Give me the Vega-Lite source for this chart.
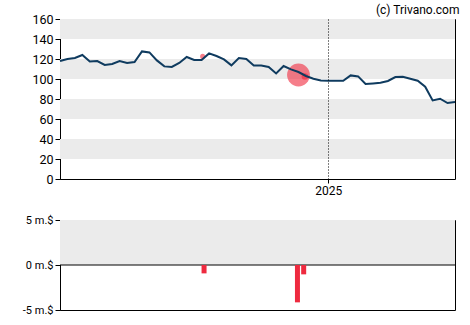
{
  "$schema": "https://vega.github.io/schema/vega-lite/v6.json",
  "background": "white",
  "padding": {"left": 21, "top": 3, "right": 14, "bottom": 5},
  "title": {"text": "(c) Trivano.com", "anchor": "end", "fontSize": 12, "fontWeight": "normal", "font": "Roboto", "color": "black", "offset": -4},
  "config": {
    "view": {"stroke": "black", "strokeWidth": 1},
    "axis": {"domainColor": "black", "tickColor": "black", "labelColor": "black", "labelFont": "Roboto", "title": null, "grid": false, "tickSize": 5, "labelPadding": 2, "labelOverlap": false, "labelBound": false, "labelFlush": false}
  },
  "datasets": {
    "prices": [
      {"date": "2024-04-24", "close": 118}, {"date": "2024-05-01", "close": 120}, {"date": "2024-05-08", "close": 121},
      {"date": "2024-05-15", "close": 124}, {"date": "2024-05-22", "close": 117.6}, {"date": "2024-05-29", "close": 118},
      {"date": "2024-06-05", "close": 114}, {"date": "2024-06-12", "close": 115}, {"date": "2024-06-19", "close": 118},
      {"date": "2024-06-26", "close": 116}, {"date": "2024-07-03", "close": 117}, {"date": "2024-07-10", "close": 127.6},
      {"date": "2024-07-17", "close": 126.6}, {"date": "2024-07-24", "close": 118.6}, {"date": "2024-07-31", "close": 112.6},
      {"date": "2024-08-07", "close": 112}, {"date": "2024-08-14", "close": 116}, {"date": "2024-08-21", "close": 122},
      {"date": "2024-08-28", "close": 119}, {"date": "2024-09-04", "close": 119}, {"date": "2024-09-11", "close": 125.6},
      {"date": "2024-09-18", "close": 123}, {"date": "2024-09-25", "close": 119.6}, {"date": "2024-10-02", "close": 113.6},
      {"date": "2024-10-09", "close": 121}, {"date": "2024-10-16", "close": 120}, {"date": "2024-10-23", "close": 113.6},
      {"date": "2024-10-30", "close": 113.6}, {"date": "2024-11-06", "close": 112}, {"date": "2024-11-13", "close": 105.6},
      {"date": "2024-11-20", "close": 113}, {"date": "2024-11-27", "close": 109.6}, {"date": "2024-12-04", "close": 107},
      {"date": "2024-12-11", "close": 103}, {"date": "2024-12-18", "close": 100.3}, {"date": "2024-12-25", "close": 98.6},
      {"date": "2025-01-01", "close": 98.3}, {"date": "2025-01-08", "close": 98.3}, {"date": "2025-01-15", "close": 98.3},
      {"date": "2025-01-22", "close": 103.6}, {"date": "2025-01-29", "close": 102.6}, {"date": "2025-02-05", "close": 95},
      {"date": "2025-02-12", "close": 95.6}, {"date": "2025-02-19", "close": 96.3}, {"date": "2025-02-26", "close": 98},
      {"date": "2025-03-05", "close": 102}, {"date": "2025-03-12", "close": 102.3}, {"date": "2025-03-19", "close": 100.3},
      {"date": "2025-03-26", "close": 98.3}, {"date": "2025-04-02", "close": 92.3}, {"date": "2025-04-09", "close": 78.6},
      {"date": "2025-04-16", "close": 80.3}, {"date": "2025-04-23", "close": 76}, {"date": "2025-04-30", "close": 77}
    ],
    "trades": [
      {"date": "2024-09-05", "price": 122.6, "value": -0.93},
      {"date": "2024-12-04", "price": 104, "value": -4.15},
      {"date": "2024-12-10", "price": 102.5, "value": -1.04}
    ],
    "bands": [
      {"lo": 20, "hi": 40}, {"lo": 60, "hi": 80}, {"lo": 100, "hi": 120}, {"lo": 140, "hi": 160}
    ],
    "bands2": [
      {"lo": 0, "hi": 5}
    ]
  },
  "spacing": 16,
  "vconcat": [
    {
      "width": 395,
      "height": 160,
      "layer": [
        {
          "data": {"name": "bands"},
          "mark": {"type": "rect", "color": "#ebebeb"},
          "encoding": {
            "y": {"field": "lo", "type": "quantitative", "scale": {"domain": [0, 160], "nice": false},
                  "axis": {"values": [0, 20, 40, 60, 80, 100, 120, 140, 160], "labelFontSize": 12.5}},
            "y2": {"field": "hi"}
          }
        },
        {
          "data": {"name": "trades"},
          "mark": {"type": "circle", "color": "#f0283c", "opacity": 0.6},
          "encoding": {
            "x": {"field": "date", "type": "temporal",
                  "axis": {"values": [{"year": 2025, "month": 1, "date": 1, "utc": true}], "format": "%Y", "labelFontSize": 12, "grid": true, "gridColor": "black", "gridDash": [1, 2], "gridWidth": 1, "tickSize": 4, "domain": false, "zindex": 1}},
            "y": {"field": "price", "type": "quantitative",
                  "axis": {"values": [0, 20, 40, 60, 80, 100, 120, 140, 160], "labelFontSize": 12.5}},
            "size": {"field": "value", "type": "quantitative", "scale": {"domain": [-0.93, -4.15], "range": [26, 520]}, "legend": null}
          }
        },
        {
          "data": {"name": "prices"},
          "mark": {"type": "line", "color": "#0f3b5f", "strokeWidth": 2},
          "encoding": {
            "x": {"field": "date", "type": "temporal",
                  "scale": {"type": "utc", "domain": [{"year": 2024, "month": 4, "date": 24, "utc": true}, {"year": 2025, "month": 4, "date": 30, "utc": true}]},
                  "axis": {"values": [{"year": 2025, "month": 1, "date": 1, "utc": true}], "format": "%Y", "labelFontSize": 12, "grid": true, "gridColor": "black", "gridDash": [1, 2], "gridWidth": 1, "tickSize": 4, "domain": false, "zindex": 1}},
            "y": {"field": "close", "type": "quantitative",
                  "axis": {"values": [0, 20, 40, 60, 80, 100, 120, 140, 160], "labelFontSize": 12.5}}
          }
        }
      ]
    },
    {
      "width": 395,
      "height": 90,
      "layer": [
        {
          "data": {"name": "bands2"},
          "mark": {"type": "rect", "color": "#ebebeb"},
          "encoding": {
            "y": {"field": "lo", "type": "quantitative", "scale": {"domain": [-5, 5], "nice": false},
                  "axis": {"values": [-5, 0, 5], "labelExpr": "datum.value + ' m.$'", "labelFontSize": 11}},
            "y2": {"field": "hi"}
          }
        },
        {
          "data": {"name": "bands2"},
          "mark": {"type": "rule", "color": "black", "strokeWidth": 1},
          "encoding": {"y": {"datum": 0, "type": "quantitative",
                  "axis": {"values": [-5, 0, 5], "labelExpr": "datum.value + ' m.$'", "labelFontSize": 11}}}
        },
        {
          "data": {"name": "trades"},
          "mark": {"type": "bar", "color": "#ee2a3f", "size": 5},
          "encoding": {
            "x": {"field": "date", "type": "temporal",
                  "scale": {"type": "utc", "domain": [{"year": 2024, "month": 4, "date": 24, "utc": true}, {"year": 2025, "month": 4, "date": 30, "utc": true}]},
                  "axis": null},
            "y": {"field": "value", "type": "quantitative",
                  "axis": {"values": [-5, 0, 5], "labelExpr": "datum.value + ' m.$'", "labelFontSize": 11}}
          }
        }
      ]
    }
  ]
}
